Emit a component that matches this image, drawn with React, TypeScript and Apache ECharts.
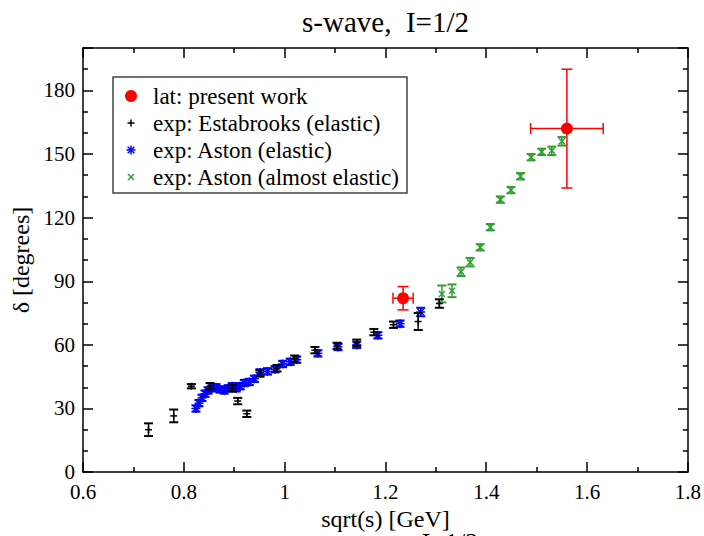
import React, { useEffect, useRef } from "react";
import * as echarts from "echarts";

const FONT = '"Liberation Serif", "DejaVu Serif", serif';

// lattice: present work (red)
const latX = [1.235, 1.56];
const latY = [82, 162];
const latErrY = [5.5, 28];
const latErrX = [0.02, 0.072];

// exp: Estabrooks (elastic) (black)
const estX = [0.73, 0.78, 0.815, 0.852, 0.896, 0.907, 0.925, 0.951, 0.985, 1.02, 1.06, 1.104, 1.143, 1.177, 1.216, 1.265, 1.307];
const estY = [20, 26.5, 40.5, 40.5, 39.5, 33.5, 27.5, 46.5, 49, 53.5, 57.5, 59.5, 61, 66, 69.5, 71, 79.5];
const estErr = [3, 3, 1, 1.5, 1.5, 1.5, 1.5, 1.5, 1.5, 1.5, 1.5, 1.5, 1.5, 1.5, 1.5, 4, 2];

// exp: Aston (elastic) (blue)
const astX = [0.824, 0.830, 0.836, 0.842, 0.848, 0.856, 0.864, 0.872, 0.880, 0.888, 0.896, 0.904, 0.912, 0.920, 0.930, 0.940, 0.951, 0.966, 0.981, 0.996, 1.011, 1.024, 1.066, 1.106, 1.143, 1.185, 1.229, 1.27];
const astY = [30, 32.5, 35, 37, 38.5, 39.5, 40, 39, 38.5, 39.5, 40.5, 39.5, 40.5, 42, 42.5, 44, 47, 47.5, 48.5, 51, 52, 53, 56, 59, 60, 64.5, 70, 75.5];
const astErr = [1.5, 1.5, 1.5, 1.5, 1.5, 1.5, 1.5, 1.5, 1.5, 1.5, 1.5, 1.5, 1.5, 1.5, 1.5, 1.5, 1.5, 1.5, 1.5, 1.5, 1.5, 1.5, 1.5, 1.5, 1.5, 1.5, 1.5, 2];

// exp: Aston (almost elastic) (green)
const aeX = [1.312, 1.332, 1.350, 1.368, 1.388, 1.408, 1.428, 1.449, 1.468, 1.489, 1.510, 1.530, 1.550];
const aeY = [84, 85.5, 94.5, 99, 106, 115.5, 128.5, 133, 139.5, 148.5, 151, 151.5, 156];
const aeErr = [4, 3, 2, 2, 1.5, 1.5, 1.5, 1.5, 1.5, 1.5, 1.5, 2, 2];

const xTicks = { min: 0.6, max: 1.8, interval: 0.2 };
const yTicks = { min: 0, max: 200, interval: 30 };

const RED = "#ff0000";
const BLACK = "#000000";
const BLUE = "#0000ff";
const GREEN = "#2e9e2e";

function pack(xs: number[], ys: number[], ey: number[], ex?: number[]) {
  return xs.map((x, i) => [x, ys[i], ey[i], ex ? ex[i] : 0]);
}

function markerLines(kind: string, cx: number, cy: number, color: string): any[] {
  const st = { stroke: color, lineWidth: 1.5 };
  const L = (x1: number, y1: number, x2: number, y2: number) => ({
    type: "line",
    shape: { x1, y1, x2, y2 },
    style: st,
  });
  if (kind === "plus") {
    return [L(cx - 3.5, cy, cx + 3.5, cy), L(cx, cy - 3.5, cx, cy + 3.5)];
  }
  if (kind === "star") {
    return [
      L(cx - 4.5, cy, cx + 4.5, cy),
      L(cx, cy - 4.5, cx, cy + 4.5),
      L(cx - 3.3, cy - 3.3, cx + 3.3, cy + 3.3),
      L(cx - 3.3, cy + 3.3, cx + 3.3, cy - 3.3),
    ];
  }
  if (kind === "cross") {
    return [L(cx - 3, cy - 3, cx + 3, cy + 3), L(cx - 3, cy + 3, cx + 3, cy - 3)];
  }
  return [{ type: "circle", shape: { cx, cy, r: 6 }, style: { fill: color } }];
}

function makeRender(kind: string, color: string, cap: number, capWidth: number) {
  return (params: any, api: any) => {
    const x = api.value(0);
    const y = api.value(1);
    const ey = api.value(2);
    const ex = api.value(3);
    const c = api.coord([x, y]);
    const lo = api.coord([x, y - ey]);
    const hi = api.coord([x, y + ey]);
    const st = { stroke: color, lineWidth: 1.5 };
    const cs = { stroke: color, lineWidth: capWidth };
    const ch: any[] = [];
    ch.push({ type: "line", shape: { x1: c[0], y1: lo[1], x2: c[0], y2: hi[1] }, style: st });
    ch.push({ type: "line", shape: { x1: c[0] - cap, y1: lo[1], x2: c[0] + cap, y2: lo[1] }, style: cs });
    ch.push({ type: "line", shape: { x1: c[0] - cap, y1: hi[1], x2: c[0] + cap, y2: hi[1] }, style: cs });
    if (ex > 0) {
      const l = api.coord([x - ex, y]);
      const r = api.coord([x + ex, y]);
      ch.push({ type: "line", shape: { x1: l[0], y1: c[1], x2: r[0], y2: c[1] }, style: st });
      ch.push({ type: "line", shape: { x1: l[0], y1: c[1] - cap, x2: l[0], y2: c[1] + cap }, style: cs });
      ch.push({ type: "line", shape: { x1: r[0], y1: c[1] - cap, x2: r[0], y2: c[1] + cap }, style: cs });
    }
    markerLines(kind, c[0], c[1], color).forEach((m) => ch.push(m));
    return { type: "group", children: ch };
  };
}

const legendItems = [
  { kind: "circle", color: RED, text: "lat: present work" },
  { kind: "plus", color: BLACK, text: "exp: Estabrooks (elastic)" },
  { kind: "star", color: BLUE, text: "exp: Aston (elastic)" },
  { kind: "cross", color: GREEN, text: "exp: Aston (almost elastic)" },
];

export default function App() {
  const ref = useRef<HTMLDivElement>(null);
  useEffect(() => {
    if (!ref.current) return;
    const chart = echarts.init(ref.current, null, { renderer: "svg" });

    const axisLineStyle = { color: "#000", width: 1.5 };
    const tickCommon = { show: true, inside: true, length: 10, lineStyle: { color: "#000", width: 1.5 } };
    const minorCommon = (n: number) => ({ show: true, splitNumber: n, length: 5, lineStyle: { color: "#000", width: 1.5 } });
    const labelStyle = { color: "#000", fontFamily: FONT, fontSize: 21 };

    const legendGraphics: any[] = [
      {
        type: "rect",
        shape: { x: 113, y: 77, width: 294, height: 116 },
        style: { fill: "#fff", stroke: "#444", lineWidth: 1.5 },
        z: 100,
      },
    ];
    const rowY = [96, 123, 150, 177];
    legendItems.forEach((it, i) => {
      const cy = rowY[i];
      markerLines(it.kind, 131, cy, it.color).forEach((m) => legendGraphics.push({ ...m, z: 101 }));
      legendGraphics.push({
        type: "text",
        x: 153,
        y: cy,
        z: 101,
        style: {
          text: it.text,
          font: `23px ${FONT}`,
          fill: "#000",
          textAlign: "left",
          textVerticalAlign: "middle",
          verticalAlign: "middle",
        },
      });
    });

    chart.setOption({
      animation: false,
      backgroundColor: "#fff",
      title: {
        text: "s-wave,  I=1/2",
        left: 297,
        top: 2,
        padding: 5,
        textStyle: { fontFamily: FONT, fontSize: 29, fontWeight: "normal", color: "#000" },
      },
      grid: { left: 83, right: 16, top: 48, bottom: 61, containLabel: false },
      xAxis: [
        {
          type: "value",
          position: "bottom",
          ...xTicks,
          name: "sqrt(s) [GeV]",
          nameLocation: "middle",
          nameGap: 27,
          nameTextStyle: { fontFamily: FONT, fontSize: 24, color: "#000" },
          axisLine: { show: true, onZero: false, lineStyle: axisLineStyle },
          axisTick: tickCommon,
          minorTick: minorCommon(2),
          axisLabel: { ...labelStyle, margin: 9 },
          splitLine: { show: false },
        },
        {
          type: "value",
          position: "top",
          ...xTicks,
          axisLine: { show: true, onZero: false, lineStyle: axisLineStyle },
          axisTick: tickCommon,
          minorTick: minorCommon(2),
          axisLabel: { show: false },
          splitLine: { show: false },
        },
      ],
      yAxis: [
        {
          type: "value",
          position: "left",
          ...yTicks,
          name: "δ [degrees]",
          nameLocation: "middle",
          nameRotate: 90,
          nameGap: 48,
          nameTextStyle: { fontFamily: FONT, fontSize: 24, color: "#000" },
          axisLine: { show: true, onZero: false, lineStyle: axisLineStyle },
          axisTick: tickCommon,
          minorTick: minorCommon(3),
          axisLabel: { ...labelStyle, margin: 8, showMaxLabel: false },
          splitLine: { show: false },
        },
        {
          type: "value",
          position: "right",
          ...yTicks,
          axisLine: { show: true, onZero: false, lineStyle: axisLineStyle },
          axisTick: tickCommon,
          minorTick: minorCommon(3),
          axisLabel: { show: false },
          splitLine: { show: false },
        },
      ],
      graphic: [
        ...legendGraphics,
        {
          type: "text",
          x: 450,
          y: 529,
          style: { text: "I=1/2", font: `26px ${FONT}`, fill: "#000", textAlign: "center", textVerticalAlign: "top", verticalAlign: "top" },
        },
      ],
      series: [
        {
          type: "custom",
          name: "exp: Aston (elastic)",
          renderItem: makeRender("star", BLUE, 4.5, 2),
          data: pack(astX, astY, astErr),
          encode: { x: 0, y: 1 },
          z: 2,
        },
        {
          type: "custom",
          name: "exp: Aston (almost elastic)",
          renderItem: makeRender("cross", GREEN, 4.5, 2),
          data: pack(aeX, aeY, aeErr),
          encode: { x: 0, y: 1 },
          z: 3,
        },
        {
          type: "custom",
          name: "exp: Estabrooks (elastic)",
          renderItem: makeRender("plus", BLACK, 4.5, 2),
          data: pack(estX, estY, estErr),
          encode: { x: 0, y: 1 },
          z: 4,
        },
        {
          type: "custom",
          name: "lat: present work",
          renderItem: makeRender("circle", RED, 5.5, 1.5),
          data: pack(latX, latY, latErrY, latErrX),
          encode: { x: 0, y: 1 },
          z: 5,
        },
      ],
    });
    return () => chart.dispose();
  }, []);
  return (
    <div
      ref={ref}
      style={{ position: "fixed", left: 0, top: 0, width: 704, height: 536, background: "#fff" }}
    />
  );
}
